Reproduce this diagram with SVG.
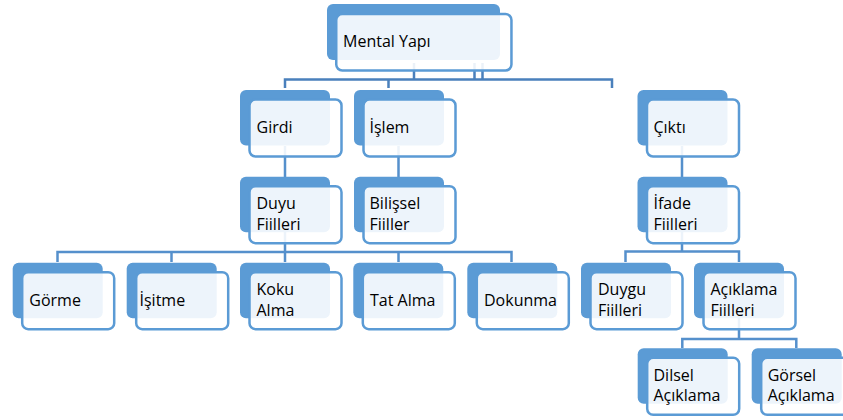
<svg xmlns="http://www.w3.org/2000/svg" width="843" height="420" viewBox="0 0 843 420">
<style>
.bk{fill:#5B9BD5}
.fr{fill:#FFFFFF;fill-opacity:0.89;stroke:#5B9BD5;stroke-width:2.5}
.t{font-family:"Open Sans","Liberation Sans",sans-serif;font-size:16px;fill:#000}
.c{fill:none;stroke:#5590CC;stroke-width:2.5}
.c2{fill:none;stroke:#4A80BC;stroke-width:2.5}
</style>
<rect width="843" height="420" fill="#FFFFFF"/>
<g id="connectors">
<path class="c2" d="M285 88 V79.5 H612 V88 M388.5 79.5 V88 M414 63 V79.5 M474.5 63 V79.5 M482.5 63 V79.5"/>
<path class="c" d="M285 146 V177 M398.5 146 V177 M682 146 V177"/>
<path class="c" d="M285 232 V262 M57.5 262 V252 H511.5 V262 M171.5 252 V262 M398.5 252 V262"/>
<path class="c" d="M682 232 V251.5 M625.5 262 V251.5 H739 V262"/>
<path class="c" d="M739 318 V339 M682.3 348 V339 H796.3 V348"/>
</g>
<g id="mental-yapi">
<rect class="bk" x="327" y="4" width="173" height="56" rx="6"/>
<rect class="fr" x="336.25" y="14" width="175.2" height="56.5" rx="6"/>
<text class="t" x="343" y="47">Mental Yapı</text>
</g>
<g id="girdi">
<rect class="bk" x="240" y="90" width="90" height="55.5" rx="6"/>
<rect class="fr" x="249.5" y="99.5" width="92" height="57" rx="6"/>
<text class="t" x="256.5" y="133">Girdi</text>
</g>
<g id="islem">
<rect class="bk" x="354" y="90" width="90" height="55.5" rx="6"/>
<rect class="fr" x="363.5" y="99.5" width="92" height="57" rx="6"/>
<text class="t" x="369.5" y="133">İşlem</text>
</g>
<g id="cikti">
<rect class="bk" x="637.5" y="90" width="90" height="55.5" rx="6"/>
<rect class="fr" x="647" y="99.5" width="92" height="57" rx="6"/>
<text class="t" x="653.5" y="133">Çıktı</text>
</g>
<g id="duyu-fiilleri">
<rect class="bk" x="240" y="176.7" width="90" height="55.5" rx="6"/>
<rect class="fr" x="249.5" y="186.2" width="92" height="57" rx="6"/>
<text class="t" x="256.5" y="209">Duyu</text>
<text class="t" x="256.5" y="229.5">Fiilleri</text>
</g>
<g id="bilissel-fiiller">
<rect class="bk" x="354" y="176.7" width="90" height="55.5" rx="6"/>
<rect class="fr" x="363.5" y="186.2" width="92" height="57" rx="6"/>
<text class="t" x="369.5" y="209">Bilişsel</text>
<text class="t" x="369.5" y="229.5">Fiiller</text>
</g>
<g id="ifade-fiilleri">
<rect class="bk" x="637.5" y="176.7" width="90" height="55.5" rx="6"/>
<rect class="fr" x="647" y="186.2" width="92" height="57" rx="6"/>
<text class="t" x="653.5" y="209">İfade</text>
<text class="t" x="653.5" y="229.5">Fiilleri</text>
</g>
<g id="gorme">
<rect class="bk" x="12.7" y="262.7" width="90" height="55.5" rx="6"/>
<rect class="fr" x="22.2" y="272.2" width="92" height="57" rx="6"/>
<text class="t" x="29.3" y="305.5">Görme</text>
</g>
<g id="isitme">
<rect class="bk" x="126.7" y="262.7" width="90" height="55.5" rx="6"/>
<rect class="fr" x="136.2" y="272.2" width="92" height="57" rx="6"/>
<text class="t" x="139.5" y="305.5">İşitme</text>
</g>
<g id="koku-alma">
<rect class="bk" x="240" y="262.7" width="90" height="55.5" rx="6"/>
<rect class="fr" x="249.5" y="272.2" width="92" height="57" rx="6"/>
<text class="t" x="256.5" y="295">Koku</text>
<text class="t" x="256.5" y="315.5">Alma</text>
</g>
<g id="tat-alma">
<rect class="bk" x="353.3" y="262.7" width="90" height="55.5" rx="6"/>
<rect class="fr" x="362.8" y="272.2" width="92" height="57" rx="6"/>
<text class="t" x="370" y="305.5">Tat Alma</text>
</g>
<g id="dokunma">
<rect class="bk" x="467.3" y="262.7" width="90" height="55.5" rx="6"/>
<rect class="fr" x="476.8" y="272.2" width="92" height="57" rx="6"/>
<text class="t" x="484" y="305.5">Dokunma</text>
</g>
<g id="duygu-fiilleri">
<rect class="bk" x="581" y="262.7" width="90" height="55.5" rx="6"/>
<rect class="fr" x="590.5" y="272.2" width="92" height="57" rx="6"/>
<text class="t" x="598" y="295">Duygu</text>
<text class="t" x="598" y="315.5">Fiilleri</text>
</g>
<g id="aciklama-fiilleri">
<rect class="bk" x="694" y="262.7" width="90" height="55.5" rx="6"/>
<rect class="fr" x="703.5" y="272.2" width="92" height="57" rx="6"/>
<text class="t" x="710.5" y="295">Açıklama</text>
<text class="t" x="710.5" y="315.5">Fiilleri</text>
</g>
<g id="dilsel-aciklama">
<rect class="bk" x="637.7" y="348.3" width="90" height="55.5" rx="6"/>
<rect class="fr" x="647.2" y="357.8" width="92" height="57" rx="6"/>
<text class="t" x="653.5" y="380.7">Dilsel</text>
<text class="t" x="653.5" y="401">Açıklama</text>
</g>
<g id="gorsel-aciklama">
<rect class="bk" x="751.7" y="348.3" width="90" height="55.5" rx="6"/>
<rect class="fr" x="761.2" y="357.8" width="92" height="57" rx="6"/>
<text class="t" x="767.7" y="380.7">Görsel</text>
<text class="t" x="767.7" y="401">Açıklama</text>
</g>
</svg>
